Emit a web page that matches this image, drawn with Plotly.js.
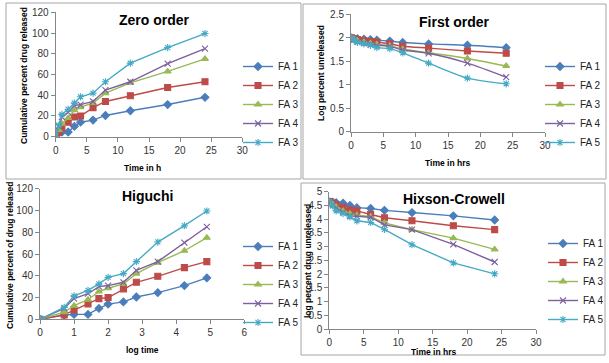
<!DOCTYPE html>
<html><head><meta charset="utf-8">
<script src="https://cdn.plot.ly/plotly-3.0.1.min.js"></script>
<style>html,body{margin:0;padding:0;background:#fff}#chart{width:609px;height:363px}</style>
</head><body><div id="chart"></div><script>
// ---- data ----
const timeHrs = [0, 0.5, 1, 2, 3, 4, 6, 8, 12, 18, 24];
const sqrtTime = [0, 0.71, 1, 1.41, 1.73, 2, 2.45, 2.83, 3.46, 4.24, 4.9];
const seriesNames = ['FA 1', 'FA 2', 'FA 3', 'FA 4', 'FA 5'];
const zeroOrderNames = ['FA 1', 'FA 2', 'FA 3', 'FA 4', 'FA 3'];

// cumulative percent released (Zero order)
const zeroFA1 = [0, 4, 4.5, 4.5, 10, 14, 16, 20.5, 25, 31, 38];
const zeroFA2 = [0, 4, 8.5, 14, 19, 20, 28, 34, 39.5, 47.5, 53];
const zeroFA3 = [0, 6.5, 12.5, 18, 25.5, 28.5, 32.5, 42, 52, 63, 75];
const zeroFA4 = [0, 10, 19, 23.5, 30, 31, 34, 45, 53, 70.5, 85];
const zeroFA5 = [0, 11, 21.5, 26.5, 32.5, 38.5, 42, 53, 71, 86, 99.5];

// Higuchi (cumulative percent of drug released vs sqrt time)
const higFA1 = [0, 4, 4.5, 4.5, 10, 14, 16, 20.5, 24.5, 31, 38];
const higFA2 = [0, 4, 8.5, 14, 19, 20, 28, 34, 39.5, 47.5, 53];
const higFA3 = [0, 6.5, 12.5, 18, 25.5, 28.5, 32.5, 42, 52, 63, 75];
const higFA4 = [0, 10, 19, 23.5, 30, 31, 34, 45, 53, 70.5, 85];
const higFA5 = [0, 11, 21.5, 26.5, 32.5, 38.5, 42, 53, 71, 86, 99.5];

// First order (log percent unreleased)
const foFA1 = [2, 1.98, 1.98, 1.97, 1.96, 1.95, 1.93, 1.90, 1.87, 1.84, 1.79];
const foFA2 = [2, 1.98, 1.96, 1.94, 1.92, 1.91, 1.87, 1.82, 1.78, 1.72, 1.67];
const foFA3 = [2, 1.97, 1.94, 1.91, 1.88, 1.86, 1.83, 1.76, 1.68, 1.56, 1.40];
const foFA4 = [2, 1.96, 1.92, 1.89, 1.86, 1.84, 1.82, 1.74, 1.67, 1.46, 1.16];
const foFA5 = [2, 1.95, 1.90, 1.87, 1.84, 1.79, 1.77, 1.68, 1.46, 1.14, 1.02];

// Hixson-Crowell
const hcFA1 = [4.64, 4.62, 4.6, 4.58, 4.5, 4.42, 4.39, 4.32, 4.24, 4.12, 3.97];
const hcFA2 = [4.64, 4.58, 4.52, 4.42, 4.33, 4.3, 4.17, 4.05, 3.94, 3.76, 3.62];
const hcFA3 = [4.64, 4.55, 4.45, 4.3, 4.2, 4.15, 4.09, 3.86, 3.62, 3.31, 2.9];
const hcFA4 = [4.64, 4.52, 4.4, 4.25, 4.12, 4.1, 4.07, 3.79, 3.62, 3.08, 2.44];
const hcFA5 = [4.64, 4.48, 4.3, 4.2, 4.08, 3.94, 3.88, 3.63, 3.07, 2.41, 2.01];

// ---- styling ----
const colors = ['#4A7EBB', '#BE4B48', '#98B954', '#7D60A0', '#46AAC5'];
const symbols = ['diamond', 'square', 'triangle-up', 'x-thin-open', 'asterisk-open'];
const sizes = [6, 6, 6, 6, 6];

const W = 609, H = 363;
const px = x => x / W;
const py = y => 1 - y / H;

const traces = [];
function addPanel(xs, ys, names, xa, ya, legendId, shape) {
  ys.forEach((y, i) => {
    traces.push({
      type: 'scatter', mode: 'lines+markers',
      x: xs, y: y, name: names[i],
      xaxis: xa, yaxis: ya, legend: legendId,
      line: {color: colors[i], width: 1.4, shape: shape || 'linear', smoothing: 0.8},
      marker: {symbol: symbols[i], size: sizes[i], color: colors[i],
               line: {color: colors[i], width: 1.1}}
    });
  });
}
addPanel(timeHrs, [zeroFA1, zeroFA2, zeroFA3, zeroFA4, zeroFA5], zeroOrderNames, 'x', 'y', 'legend');
addPanel(timeHrs, [foFA1, foFA2, foFA3, foFA4, foFA5], seriesNames, 'x2', 'y2', 'legend2', 'spline');
addPanel(sqrtTime, [higFA1, higFA2, higFA3, higFA4, higFA5], seriesNames, 'x3', 'y3', 'legend3');
addPanel(timeHrs, [hcFA1, hcFA2, hcFA3, hcFA4, hcFA5], seriesNames, 'x4', 'y4', 'legend4');

const tickFont = {family: 'Liberation Sans, Arial, sans-serif', size: 10, color: '#333'};
function ax(domain, range, dtick, anchor) {
  return {domain: domain, range: range, dtick: dtick, tick0: 0, anchor: anchor,
    showline: true, linecolor: '#868686', linewidth: 1, ticks: 'outside', ticklen: 4,
    tickcolor: '#868686', showgrid: false, zeroline: false, tickfont: tickFont,
    fixedrange: true};
}
function leg(x, y) {
  return {x: px(x), y: py(y), xanchor: 'left', yanchor: 'top', bgcolor: 'rgba(0,0,0,0)',
    borderwidth: 0, itemwidth: 30, tracegroupgap: 0,
    font: {family: 'Liberation Sans, Arial, sans-serif', size: 10, color: '#222'}};
}

const titleFont = {family: 'Liberation Sans, Arial, sans-serif', size: 14, color: '#000', weight: 'bold'};
const axTitleFont = {family: 'Liberation Sans Narrow, Liberation Sans, Arial, sans-serif', size: 8.5, color: '#000', weight: 'bold'};
function ann(text, x, y, font, angle) {
  return {text: text, x: px(x), y: py(y), xref: 'paper', yref: 'paper', showarrow: false,
    xanchor: 'center', yanchor: 'middle', font: font, textangle: angle || 0};
}
function rect(x0, y0, x1, y1) {
  return {type: 'rect', xref: 'paper', yref: 'paper', x0: px(x0), x1: px(x1), y0: py(y1), y1: py(y0),
    line: {color: '#A6A6A6', width: 1}, fillcolor: 'rgba(0,0,0,0)'};
}

const layout = {
  width: W, height: H, margin: {l: 0, r: 0, t: 0, b: 0},
  paper_bgcolor: '#fff', plot_bgcolor: 'rgba(0,0,0,0)', showlegend: true,
  xaxis: ax([px(55.7), px(242.3)], [0, 30], 5, 'y'),
  yaxis: ax([py(136.7), py(12.3)], [0, 120], 20, 'x'),
  xaxis2: ax([px(351), px(545)], [0, 30], 5, 'y2'),
  yaxis2: ax([py(131.7), py(14.3)], [0, 2.5], 0.5, 'x2'),
  xaxis3: ax([px(40), px(244.3)], [0, 6], 1, 'y3'),
  yaxis3: ax([py(319.3), py(188.7)], [0, 120], 20, 'x3'),
  xaxis4: ax([px(329.3), px(536)], [0, 30], 5, 'y4'),
  yaxis4: ax([py(329), py(191.7)], [0, 5], 0.5, 'x4'),
  legend: leg(238, 52),
  legend2: leg(540, 52),
  legend3: leg(238, 232),
  legend4: leg(543, 229),
  shapes: [rect(6, 3, 301, 179), rect(303, 4, 606, 179), rect(301, 183, 605, 355)],
  annotations: [
    ann('Zero order', 154, 20, titleFont),
    ann('First order', 454, 22, titleFont),
    ann('Higuchi', 147, 196, titleFont),
    ann('Hixson-Crowell', 454, 199, titleFont),
    ann('Time in h', 142, 168, axTitleFont),
    ann('Time in hrs', 447, 163, axTitleFont),
    ann('log time', 142, 350, axTitleFont),
    ann('Time in hrs', 433, 352, axTitleFont),
    ann('Cumulative percent drug released', 24, 76, axTitleFont, -90),
    ann('Log percent unreleased', 321, 73, axTitleFont, -90),
    ann('Cumulative percent of drug released', 10, 256, axTitleFont, -90),
    ann('log percent drug unreleased', 308, 261, axTitleFont, -90)
  ]
};
Plotly.newPlot('chart', traces, layout, {displayModeBar: false, staticPlot: true});
</script></body></html>
